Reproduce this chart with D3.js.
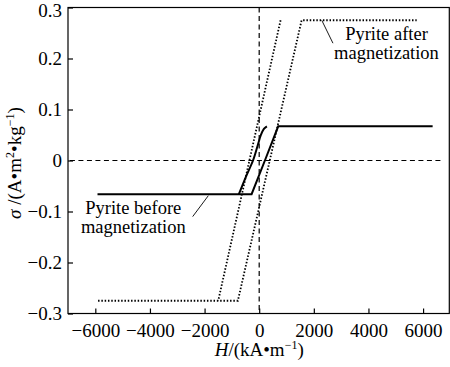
<!DOCTYPE html>
<html><head><meta charset="utf-8">
<script src="https://cdn.jsdelivr.net/npm/d3@7"></script>
<style>body{margin:0;background:#fff}svg{display:block}text{font-family:"Liberation Serif","Times New Roman",serif;fill:#000}</style>
</head><body>
<script>
// x ticks (kA/m) and y ticks (A·m²/kg)
const xTicks = [-6000, -4000, -2000, 0, 2000, 4000, 6000];
const yTicks = [-0.3, -0.2, -0.1, 0, 0.1, 0.2, 0.3];

// Pyrite before magnetization (solid)
const beforeAscH = [-5920, -278, 209, 696, 6350];
const beforeAscS = [-0.066, -0.066, 0, 0.067, 0.067];
const beforeDescH = [282, 172, 62, -48, -220, -487, -744];
const beforeDescS = [0.067, 0.062, 0.050, 0.031, 0.001, -0.032, -0.066];

// Pyrite after magnetization (dotted)
const afterAscH = [-5900, -780, 1553, 5766];
const afterAscS = [-0.275, -0.275, 0.275, 0.275];
const afterDescH = [783, -1500];
const afterDescS = [0.275, -0.275];

const W = 450, H = 367;
const x = d3.scaleLinear().domain([-7000, 6960]).range([68, 449.3]);
const y = d3.scaleLinear().domain([-0.3, 0.3]).range([313.5, 7.5]);

const svg = d3.select("body").append("svg").attr("width", W).attr("height", H);

// frame
svg.append("rect").attr("x", x.range()[0]).attr("y", y.range()[1])
  .attr("width", x.range()[1] - x.range()[0]).attr("height", y.range()[0] - y.range()[1])
  .attr("fill", "none").attr("stroke", "#000").attr("stroke-width", 1.2);

// axes
const fmtX = d => d < 0 ? "\u2212" + Math.abs(d) : String(d);
const fmtY = d => d === 0 ? "0" : (d < 0 ? "\u2212" : "") + Math.abs(d).toFixed(1);

const xAxis = svg.append("g").attr("transform", `translate(0,${y.range()[0]})`)
  .call(d3.axisBottom(x).tickValues(xTicks).tickSize(-5).tickPadding(10).tickFormat(fmtX));
const yAxis = svg.append("g").attr("transform", `translate(${x.range()[0]},0)`)
  .call(d3.axisLeft(y).tickValues(yTicks).tickSize(-5).tickPadding(6).tickFormat(fmtY));
[xAxis, yAxis].forEach(g => {
  g.attr("font-family", "Liberation Serif").attr("font-size", 19);
  g.select(".domain").remove();
  g.selectAll(".tick line").attr("stroke", "#000").attr("stroke-width", 1.2);
  g.selectAll("text").attr("font-family", "Liberation Serif").style("font-family", "Liberation Serif").style("font-size", "19px").attr("fill", "#000");
});
yAxis.selectAll(".tick text").filter(d => d === 0.3).attr("dy", "0.45em");

// zero lines
svg.append("line").attr("x1", x(-6930)).attr("x2", x(6660)).attr("y1", y(0)).attr("y2", y(0))
  .attr("stroke", "#000").attr("stroke-width", 1.2).attr("stroke-dasharray", "5,3.5");
svg.append("line").attr("x1", x(0)).attr("x2", x(0)).attr("y1", y(0.3)).attr("y2", y(-0.3))
  .attr("stroke", "#000").attr("stroke-width", 1.2).attr("stroke-dasharray", "5,3.5");

const line = d3.line().x(d => x(d[0])).y(d => y(d[1]));
const zip = (a, b) => a.map((v, i) => [v, b[i]]);

// after magnetization (dotted)
[[afterAscH, afterAscS], [afterDescH, afterDescS]].forEach(([h, s]) => {
  svg.append("path").attr("d", line(zip(h, s))).attr("fill", "none")
    .attr("stroke", "#000").attr("stroke-width", 1.8).attr("stroke-dasharray", "1.5,1.8");
});
// before magnetization (solid)
svg.append("path").attr("d", line(zip(beforeAscH, beforeAscS))).attr("fill", "none")
  .attr("stroke", "#000").attr("stroke-width", 2);
svg.append("path").attr("d", d3.line().curve(d3.curveCatmullRom.alpha(0.5)).x(d => x(d[0])).y(d => y(d[1]))(zip(beforeDescH, beforeDescS)))
  .attr("fill", "none").attr("stroke", "#000").attr("stroke-width", 2);

// annotations
const annLeaders = [[[2290, 0.275], [2700, 0.230]], [[-2435, -0.110], [-1863, -0.069]]];
annLeaders.forEach(p => svg.append("path").attr("d", line(p)).attr("stroke", "#000").attr("stroke-width", 0.9).attr("fill", "none"));
const annText = [
  {lines: ["Pyrite after", "magnetization"], h: 4660, s: [0.236, 0.1985]},
  {lines: ["Pyrite before", "magnetization"], h: -4610, s: [-0.1045, -0.1415]}
];
annText.forEach(a => a.lines.forEach((t, i) => svg.append("text").attr("x", x(a.h)).attr("y", y(a.s[i]))
  .attr("text-anchor", "middle").style("font-size", "18.5px").text(t)));

// axis titles
const xl = svg.append("text").attr("x", x(0)).attr("y", 356).attr("text-anchor", "middle").style("font-size", "19px");
xl.append("tspan").style("font-style", "italic").text("H");
xl.append("tspan").text("/(kA\u2022m");
xl.append("tspan").attr("dy", -7).style("font-size", "12px").text("\u22121");
xl.append("tspan").attr("dy", 7).text(")");

const yl = svg.append("text").attr("transform", `translate(21,${y(-0.005)}) rotate(-90)`).attr("text-anchor", "middle").style("font-size", "19px");
yl.append("tspan").style("font-style", "italic").text("\u03C3");
yl.append("tspan").text(" /(A\u2022m");
yl.append("tspan").attr("dy", -7).style("font-size", "12px").text("2");
yl.append("tspan").attr("dy", 7).text("\u2022kg");
yl.append("tspan").attr("dy", -7).style("font-size", "12px").text("\u22121");
yl.append("tspan").attr("dy", 7).text(")");
</script>
</body></html>
